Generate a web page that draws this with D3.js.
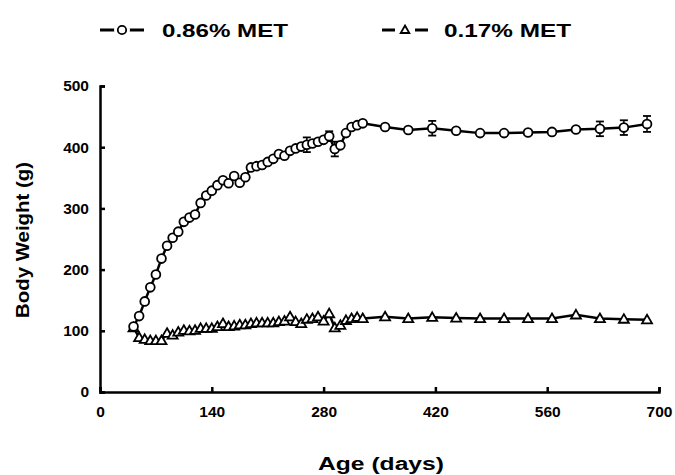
<!DOCTYPE html>
<html>
<head>
<meta charset="utf-8">
<script src="https://cdn.jsdelivr.net/npm/d3@7"></script>
<style>
body { margin: 0; background: #fff; }
text { font-family: "Liberation Sans", Arial, sans-serif; font-weight: bold; fill: #000; }
</style>
</head>
<body>
<script>
// age in days
var ages = [42,49,56,63,70,77,84,91,98,105,112,119,126,133,140,147,154,161,168,175,182,189,196,203,210,217,224,231,238,245,252,259,266,273,280,287,294,301,308,315,322,329,357,386,416,446,476,506,536,566,596,626,656,685]

var met086 = [107,124,148,171,192,218,239,252,262,278,285,290,309,321,329,338,346,341,353,342,351,367,369,371,376,381,389,386,394,398,401,404,406,409,412,418,397,403,423,433,436,439,433,428,431,427,423,423,424,425,429,430,432,438]

var met017 = [105,89,86,84,84,84,96,93,98,101,100,101,104,104,104,107,112,107,108,110,110,112,113,113,113,113,115,116,123,115,112,119,120,123,116,128,105,109,117,120,122,120,123,120,122,121,120,120,120,120,126,120,119,118]

// error bars that stick out of the markers
var errAges = [259,287,294,416,626,656,685]
var errVals = [12,8,12,12,12,12,13]

var xTicks = [0,140,280,420,560,700]
var yTicks = [0,100,200,300,400,500]

const w = 675;
const h = 475;

const svg = d3.select("body")
  .append("svg")
  .attr("width", w)
  .attr("height", h)

const x = d3.scaleLinear().domain([0,700]).range([100,659])
const y = d3.scaleLinear().domain([0,500]).range([392,86])

const xAxis = svg.append("g")
  .attr("transform", "translate(0,392)")
  .call(d3.axisBottom(x).tickValues(xTicks).tickSize(-5).tickPadding(14))
const yAxis = svg.append("g")
  .attr("transform", "translate(100,0)")
  .call(d3.axisLeft(y).tickValues(yTicks).tickSize(-5).tickPadding(11))

svg.selectAll(".domain, .tick line")
  .attr("stroke", "#000")
  .attr("stroke-width", 2.5)
svg.selectAll(".tick text")
  .style("font-size", "15.5px")

const s086 = ages.map((d,i) => [d, met086[i]])
const s017 = ages.map((d,i) => [d, met017[i]])

const line = d3.line()
  .x(d => x(d[0]))
  .y(d => y(d[1]))

svg.append("path")
  .attr("d", line(s086))
  .attr("fill", "none")
  .attr("stroke", "#000")
  .attr("stroke-width", 2.5)
svg.append("path")
  .attr("d", line(s017))
  .attr("fill", "none")
  .attr("stroke", "#000")
  .attr("stroke-width", 2.5)

// error bars
const eb = svg.selectAll(".err")
  .data(errAges)
  .enter()
  .append("g")
eb.append("line")
  .attr("x1", d => x(d)).attr("x2", d => x(d))
  .attr("y1", (d,i) => y(met086[ages.indexOf(d)] + errVals[i]))
  .attr("y2", (d,i) => y(met086[ages.indexOf(d)] - errVals[i]))
  .attr("stroke", "#000").attr("stroke-width", 1.5)
eb.append("line")
  .attr("x1", d => x(d) - 4).attr("x2", d => x(d) + 4)
  .attr("y1", (d,i) => y(met086[ages.indexOf(d)] + errVals[i]))
  .attr("y2", (d,i) => y(met086[ages.indexOf(d)] + errVals[i]))
  .attr("stroke", "#000").attr("stroke-width", 1.8)
eb.append("line")
  .attr("x1", d => x(d) - 4).attr("x2", d => x(d) + 4)
  .attr("y1", (d,i) => y(met086[ages.indexOf(d)] - errVals[i]))
  .attr("y2", (d,i) => y(met086[ages.indexOf(d)] - errVals[i]))
  .attr("stroke", "#000").attr("stroke-width", 1.8)

var tri = "M0,-5L5,3.6L-5,3.6Z"

svg.selectAll(".tri")
  .data(s017)
  .enter()
  .append("path")
  .attr("d", tri)
  .attr("transform", d => "translate(" + x(d[0]) + "," + y(d[1]) + ")")
  .attr("fill", "#fff")
  .attr("stroke", "#000")
  .attr("stroke-width", 1.8)

svg.selectAll(".circ")
  .data(s086)
  .enter()
  .append("circle")
  .attr("cx", d => x(d[0]))
  .attr("cy", d => y(d[1]))
  .attr("r", 4.4)
  .attr("fill", "#fff")
  .attr("stroke", "#000")
  .attr("stroke-width", 1.8)

// axis titles
svg.append("text")
  .attr("x", 381)
  .attr("y", 470)
  .attr("text-anchor", "middle")
  .attr("textLength", 126)
  .attr("lengthAdjust", "spacingAndGlyphs")
  .style("font-size", "18px")
  .text("Age (days)")

svg.append("text")
  .attr("transform", "translate(29,240) rotate(-90)")
  .attr("text-anchor", "middle")
  .attr("textLength", 156)
  .attr("lengthAdjust", "spacingAndGlyphs")
  .style("font-size", "18px")
  .text("Body Weight (g)")

// legend
const legend = svg.append("g")
legend.append("line").attr("x1", 100).attr("x2", 144).attr("y1", 30).attr("y2", 30)
  .attr("stroke", "#000").attr("stroke-width", 3)
legend.append("circle").attr("cx", 122).attr("cy", 30).attr("r", 8)
  .attr("fill", "#fff")
legend.append("circle").attr("cx", 122).attr("cy", 30).attr("r", 4.2)
  .attr("fill", "#fff").attr("stroke", "#000").attr("stroke-width", 1.8)
legend.append("text").attr("x", 162).attr("y", 37)
  .attr("textLength", 126).attr("lengthAdjust", "spacingAndGlyphs")
  .style("font-size", "19px")
  .text("0.86% MET")

legend.append("line").attr("x1", 382).attr("x2", 428).attr("y1", 30).attr("y2", 30)
  .attr("stroke", "#000").attr("stroke-width", 3)
legend.append("rect").attr("x", 395).attr("y", 22).attr("width", 20).attr("height", 16)
  .attr("fill", "#fff")
legend.append("path").attr("d", "M0,-4.5L4.3,3L-4.3,3Z")
  .attr("transform", "translate(405,30)")
  .attr("fill", "#fff").attr("stroke", "#000").attr("stroke-width", 1.8)
legend.append("text").attr("x", 444).attr("y", 37)
  .attr("textLength", 127).attr("lengthAdjust", "spacingAndGlyphs")
  .style("font-size", "19px")
  .text("0.17% MET")
</script>
</body>
</html>
